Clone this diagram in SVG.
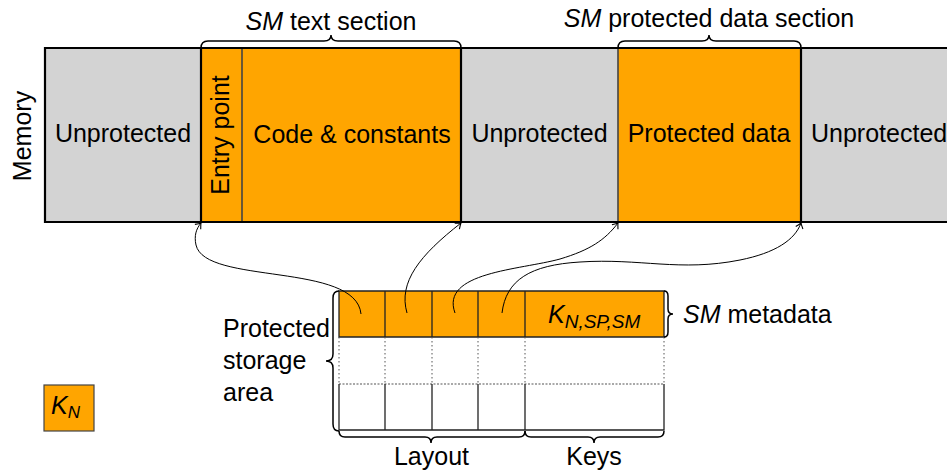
<svg xmlns="http://www.w3.org/2000/svg" width="947" height="474" viewBox="0 0 947 474">
  <defs>
    <style>
      text { font-family: "Liberation Sans", Arial, sans-serif; font-size: 25px; fill: #000; }
      .mid { text-anchor: middle; }
      .it { font-style: italic; }
      .unprot { fill: #d3d3d3; }
      .prot { fill: #ffa500; }
      .edge { stroke: #000; stroke-width: 2.2; fill: none; }
      .soft { stroke: #444; stroke-width: 1.6; fill: none; }
      .brace { stroke: #000; stroke-width: 1.5; fill: none; }
      .grid { stroke: #222; stroke-width: 1.3; fill: none; }
      .dotv { stroke: #555; stroke-width: 1; stroke-dasharray: 1.5 2.5; fill: none; }
      .dash { stroke: #555; stroke-width: 1.2; stroke-dasharray: 2 1.5; fill: none; }
      .wire { stroke: #000; stroke-width: 1; fill: none; marker-end: url(#tip); }
    </style>
    <marker id="tip" markerWidth="10" markerHeight="10" refX="0" refY="0" viewBox="-6 -5 8 10" orient="auto" markerUnits="userSpaceOnUse">
      <path d="M-5,-3.8 Q-1.5,-0.8 0,0 Q-1.5,0.8 -5,3.8" stroke="#000" stroke-width="1.1" fill="none"/>
    </marker>
  </defs>

  <!-- memory strip -->
  <g id="memory">
    <text transform="translate(31,136) rotate(-90)" class="mid">Memory</text>
  </g>
  <g id="unprotected-1">
    <rect x="45" y="48" width="156" height="174" class="unprot"/>
    <text x="123" y="142" class="mid">Unprotected</text>
  </g>
  <g id="entry-point">
    <rect x="201" y="48" width="41" height="174" class="prot"/>
    <text transform="translate(229,135) rotate(-90)" class="mid">Entry point</text>
  </g>
  <g id="code-constants">
    <rect x="242" y="48" width="219" height="174" class="prot"/>
    <text x="352" y="143" class="mid">Code &amp; constants</text>
  </g>
  <g id="unprotected-2">
    <rect x="461" y="48" width="157" height="174" class="unprot"/>
    <text x="539.5" y="142" class="mid">Unprotected</text>
  </g>
  <g id="protected-data">
    <rect x="618" y="48" width="183" height="174" class="prot"/>
    <text x="709" y="142" class="mid">Protected data</text>
  </g>
  <g id="unprotected-3">
    <rect x="801" y="48" width="160" height="174" class="unprot"/>
    <text x="811" y="142">Unprotected</text>
  </g>
  <g id="memory-lines">
    <line x1="242" y1="48" x2="242" y2="222" class="soft"/>
    <line x1="618" y1="48" x2="618" y2="222" class="soft"/>
    <line x1="201" y1="48" x2="201" y2="222" class="edge"/>
    <line x1="461" y1="48" x2="461" y2="222" class="edge"/>
    <line x1="801" y1="48" x2="801" y2="222" class="edge"/>
    <path d="M960,48 H45 V222 H960" class="edge"/>
  </g>

  <!-- section braces -->
  <g id="text-section">
    <path d="M201,48 Q201,41 208,41 L324,41 Q331,41 331,35 Q331,41 338,41 L454,41 Q461,41 461,48" class="brace"/>
    <text x="331" y="30" class="mid"><tspan class="it">SM</tspan> text section</text>
  </g>
  <g id="data-section">
    <path d="M618,48 Q618,41 625,41 L702,41 Q709,41 709,35 Q709,41 716,41 L794,41 Q801,41 801,48" class="brace"/>
    <text x="709" y="27" class="mid"><tspan class="it">SM</tspan> protected data section</text>
  </g>

  <!-- protected storage table -->
  <g id="storage">
    <rect x="339" y="291" width="325" height="46" class="prot"/>
    <path d="M339,291 H664 V337 H339 Z" class="grid"/>
    <path d="M385,291 V337 M432,291 V337 M478,291 V337 M525,291 V337" class="grid"/>
    <path d="M339,337 V384 M385,337 V384 M432,337 V384 M478,337 V384 M525,337 V384 M664,337 V384" class="dotv"/>
    <line x1="339" y1="384" x2="664" y2="384" class="dash"/>
    <path d="M339,384 V430 H664 V384 M385,384 V430 M432,384 V430 M478,384 V430 M525,384 V430" class="grid"/>
    <text x="548" y="323" class="it">K<tspan style="font-size:19px" dy="5">N,SP,SM</tspan></text>
  </g>
  <g id="storage-brace">
    <path d="M339,291 Q333,291 333,298 L333,354 Q333,361 326,361 Q333,361 333,368 L333,424 Q333,431 339,431" class="brace"/>
    <text x="223" y="337">Protected</text>
    <text x="223" y="369">storage</text>
    <text x="223" y="401">area</text>
  </g>
  <g id="metadata-brace">
    <path d="M664,291 Q668,291 668,296 L668,309 Q668,314 673,314 Q668,314 668,319 L668,332 Q668,337 664,337" class="brace"/>
    <text x="683" y="323"><tspan class="it">SM</tspan> metadata</text>
  </g>
  <g id="layout-brace">
    <path d="M339,431 Q339,437 345,437 L425,437 Q431,437 431,443 Q431,437 437,437 L519,437 Q525,437 525,431" class="brace"/>
    <text x="431.5" y="465" class="mid">Layout</text>
  </g>
  <g id="keys-brace">
    <path d="M525,431 Q525,437 531,437 L588,437 Q594,437 594,443 Q594,437 600,437 L658,437 Q664,437 664,431" class="brace"/>
    <text x="594" y="465" class="mid">Keys</text>
  </g>

  <!-- legend -->
  <g id="legend-kn">
    <rect x="44" y="385" width="50" height="46" class="prot" stroke="#444" stroke-width="1.2"/>
    <text x="51" y="414" class="it">K<tspan style="font-size:17px" dy="4">N</tspan></text>
  </g>

  <!-- layout pointers -->
  <g id="connectors">
    <path d="M361,314 C356,262 205,285 196,245 C194,236 196,229 201,223" class="wire"/>
    <path d="M407,313 C398,282 420,255 461,223" class="wire"/>
    <path d="M455,313 C440,272 520,270 560,259 C590,250 605,240 618,223" class="wire"/>
    <path d="M502,313 C506,280 530,265 580,262 C640,258 680,272 740,260 C775,253 795,240 801,223" class="wire"/>
  </g>
</svg>
